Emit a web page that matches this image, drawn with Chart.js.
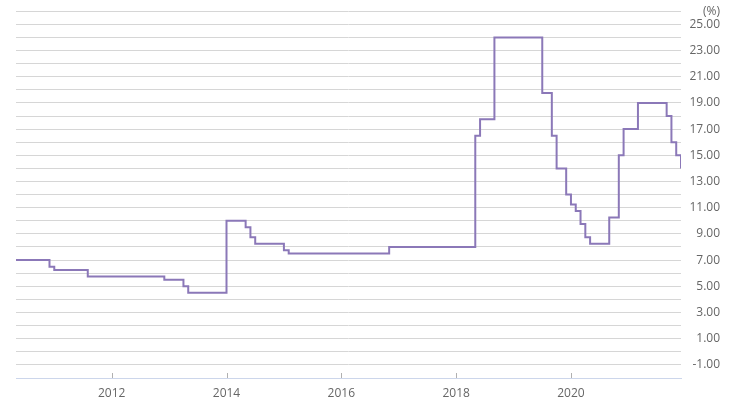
<!DOCTYPE html>
<html>
<head>
<meta charset="utf-8">
<script src="https://cdn.jsdelivr.net/npm/chart.js@4/dist/chart.umd.min.js"></script>
<style>
  html, body { margin: 0; padding: 0; background: #fff; }
  #wrap { width: 740px; height: 407px; }
</style>
</head>
<body>
<div id="wrap"><canvas id="rateChart"></canvas></div>
<script>
// policy rate change points (month the new rate applies) and rates in %
const changeMonths = [
  "2010-05", "2010-12", "2011-01", "2011-08", "2012-12", "2013-04", "2013-05",
  "2014-01", "2014-05", "2014-06", "2014-07", "2015-01", "2015-02", "2016-11",
  "2018-05", "2018-06", "2018-09", "2019-07", "2019-09", "2019-10", "2019-12",
  "2020-01", "2020-02", "2020-03", "2020-04", "2020-05", "2020-09", "2020-11",
  "2020-12", "2021-03", "2021-09", "2021-10", "2021-11", "2021-12"
];
const rates = [
  7.00, 6.50, 6.25, 5.75, 5.50, 5.00, 4.50,
  10.00, 9.50, 8.75, 8.25, 7.75, 7.50, 8.00,
  16.50, 17.75, 24.00, 19.75, 16.50, 14.00, 12.00,
  11.25, 10.75, 9.75, 8.75, 8.25, 10.25, 15.00,
  17.00, 19.00, 18.00, 16.00, 15.00, 14.00
];
const yearTicks = [2012, 2014, 2016, 2018, 2020];
const yMin = -2, yMax = 26;

// "YYYY-MM" -> fractional year for the linear x scale
function toYear(s) {
  const [y, m] = s.split("-").map(Number);
  return y + (m - 1) / 12;
}

const points = changeMonths.map((m, i) => ({ x: toYear(m), y: rates[i] }));

// small tick marks that point up from the x axis line
const upTicks = {
  id: "upTicks",
  afterDraw(chart) {
    const xs = chart.scales.x;
    const ctx = chart.ctx;
    const bottom = chart.chartArea.bottom;
    ctx.save();
    ctx.strokeStyle = "#b0b0b0";
    ctx.lineWidth = 1;
    yearTicks.forEach(v => {
      const px = Math.round(xs.getPixelForValue(v)) + 0.5;
      ctx.beginPath();
      ctx.moveTo(px, bottom - 5);
      ctx.lineTo(px, bottom);
      ctx.stroke();
    });
    ctx.restore();
  }
};

Chart.defaults.font.family = "'Open Sans', 'Noto Sans', sans-serif";
Chart.defaults.font.size = 12;
Chart.defaults.color = "#666";

new Chart(document.getElementById("rateChart"), {
  type: "line",
  data: {
    datasets: [{
      data: points,
      borderColor: "#8b78b8",
      borderWidth: 2,
      pointRadius: 0,
      tension: 0,
      stepped: "before",
      fill: false
    }]
  },
  options: {
    responsive: true,
    maintainAspectRatio: false,
    animation: false,
    events: [],
    layout: { padding: { left: 16, right: 20, top: 10, bottom: 0 } },
    plugins: { legend: { display: false }, tooltip: { enabled: false } },
    scales: {
      x: {
        type: "linear",
        min: toYear(changeMonths[0]),
        max: toYear(changeMonths[changeMonths.length - 1]),
        afterBuildTicks: s => { s.ticks = yearTicks.map(v => ({ value: v })); },
        afterFit: s => { s.height = 29; },
        grid: { display: false, drawTicks: false },
        border: { display: true, color: "#ccd6eb", width: 1 },
        ticks: {
          padding: 8,
          maxRotation: 0,
          color: "#666",
          callback: v => String(v)
        }
      },
      y: {
        position: "right",
        min: yMin,
        max: yMax,
        afterFit: s => { s.width = 39; },
        grid: {
          drawTicks: false,
          color: c => c.tick && c.tick.value === yMin ? "rgba(0,0,0,0)" : "#d6d6d6",
          lineWidth: 1
        },
        border: { display: false },
        ticks: {
          stepSize: 1,
          autoSkip: false,
          crossAlign: "far",
          padding: 4,
          color: "#666",
          callback: v => {
            if (v === yMax) return "(%)";
            if (v === yMin) return "";
            return Math.abs(v % 2) === 1 ? v.toFixed(2) : "";
          }
        }
      }
    }
  },
  plugins: [upTicks]
});
</script>
</body>
</html>
